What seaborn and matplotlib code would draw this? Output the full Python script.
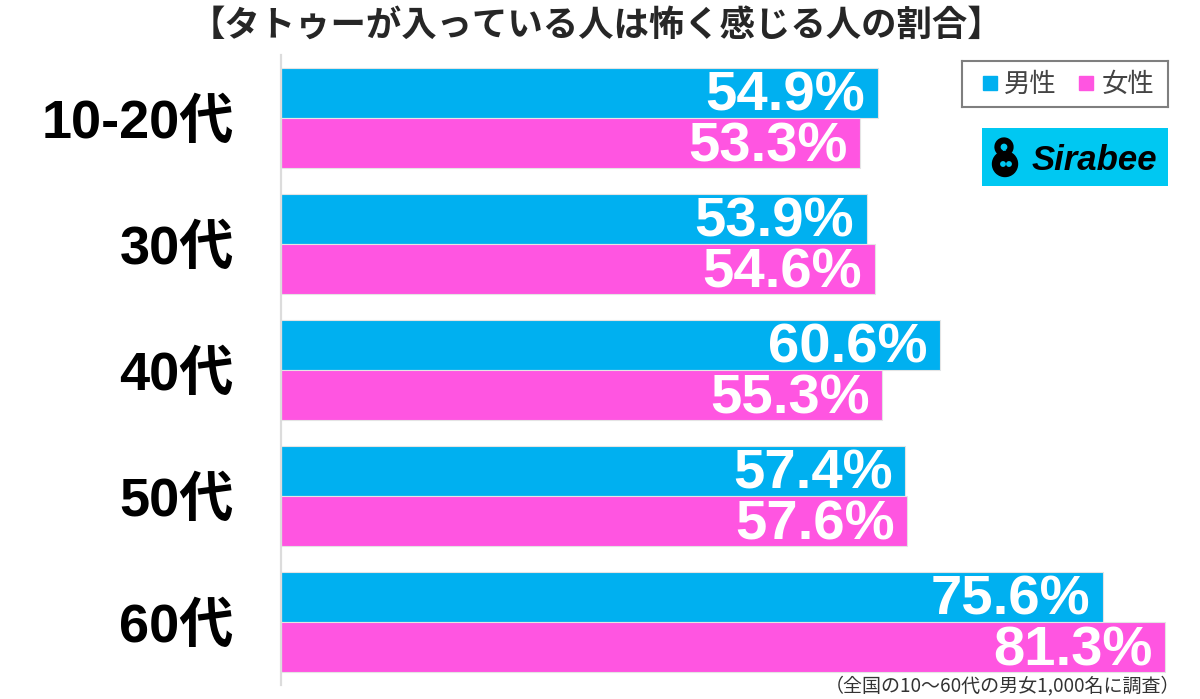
import matplotlib
matplotlib.use("Agg")
import matplotlib.pyplot as plt
import seaborn as sns
import pandas as pd
from matplotlib.patches import Rectangle, Circle, Arc

categories = ["10-20代", "30代", "40代", "50代", "60代"]
male = [54.9, 53.9, 60.6, 57.4, 75.6]
female = [53.3, 54.6, 55.3, 57.6, 81.3]
series = ["男性", "女性"]
colors = ["#00b0f0", "#ff55e1"]
title = "【タトゥーが入っている人は怖く感じる人の割合】"
note = "（全国の10〜60代の男女1,000名に調査）"

df = pd.DataFrame({
    "age": categories * 2,
    "sex": [series[0]] * len(categories) + [series[1]] * len(categories),
    "value": male + female,
})

sns.set_theme(style="white")
plt.rcParams["font.family"] = ["Liberation Sans", "Noto Sans CJK JP"]

fig = plt.figure(figsize=(12, 6.99), dpi=100)
ax = fig.add_axes([281 / 1200, 14 / 699, 919 / 1200, 630 / 699])

sns.barplot(data=df, y="age", x="value", hue="sex", hue_order=series,
            palette=colors, orient="h", order=categories, width=0.8,
            edgecolor="#e4e4e4", linewidth=0.8, saturation=1, legend=False, ax=ax)

ax.set_xlim(0, 919 / 10.87)
ax.set_ylim(4.5, -0.5)
ax.set_xlabel("")
ax.set_ylabel("")
ax.set_xticks([])
for s in ["top", "right", "bottom"]:
    ax.spines[s].set_visible(False)
ax.spines["left"].set_color("#dcdcdc")
ax.spines["left"].set_linewidth(1.6)
ax.tick_params(axis="y", length=0, pad=34)
for lab in ax.get_yticklabels():
    lab.set_fontsize(39)
    lab.set_fontweight("bold")
    lab.set_color("black")
    lab.set_family(["Liberation Sans", "Noto Sans CJK JP"])

for cont in ax.containers:
    for bar in cont:
        w = bar.get_width()
        y = bar.get_y() + bar.get_height() / 2
        ax.annotate(f"{w}%", xy=(w, y), xytext=(-9, -3), textcoords="offset points",
                    ha="right", va="center", color="white", fontsize=40.5,
                    fontweight="bold", family=["Liberation Sans", "Noto Sans CJK JP"])

fig.text(596 / 1200, 1 - 25 / 699, title, ha="center", va="center", fontsize=25.5,
         fontweight="bold", family=["Noto Sans CJK JP", "DejaVu Sans"])

# legend
leg_ax = fig.add_axes([962 / 1200, 1 - 107 / 699, 206 / 1200, 46 / 699])
leg_ax.set_xlim(0, 206)
leg_ax.set_ylim(0, 46)
leg_ax.set_xticks([])
leg_ax.set_yticks([])
for s in leg_ax.spines.values():
    s.set_color("#7f7f7f")
    s.set_linewidth(1.5)
leg_ax.set_facecolor("white")
leg_ax.add_patch(Rectangle((21, 17), 14, 14, color=colors[0]))
leg_ax.text(42, 23, series[0], fontsize=19, color="#444444", va="center", ha="left",
            family=["Noto Sans CJK JP"])
leg_ax.add_patch(Rectangle((117, 17), 14, 14, color=colors[1]))
leg_ax.text(140, 23, series[1], fontsize=19, color="#444444", va="center", ha="left",
            family=["Noto Sans CJK JP"])

# logo
logo_ax = fig.add_axes([982 / 1200, 1 - 186 / 699, 186 / 1200, 58 / 699])
logo_ax.set_xlim(0, 186)
logo_ax.set_ylim(0, 58)
logo_ax.set_xticks([])
logo_ax.set_yticks([])
for s in logo_ax.spines.values():
    s.set_visible(False)
logo_ax.set_facecolor("#00c8f2")
logo_ax.add_patch(Circle((23, 22), 12.5, color="black"))
logo_ax.add_patch(Arc((22, 39), 13, 13, theta1=-60, theta2=250, lw=4.5, color="black"))
logo_ax.add_patch(Circle((21, 22), 2.2, color="#00c8f2"))
logo_ax.add_patch(Circle((27, 22), 2.2, color="#00c8f2"))
logo_ax.text(50, 26, "Sirabee", fontsize=25, fontweight="bold", style="italic",
             color="black", va="center", ha="left", family=["Liberation Sans"])

fig.text(1180 / 1200, 1 - 686 / 699, note, ha="right", va="center", fontsize=13.7,
         color="#333333", family=["Noto Sans CJK JP", "DejaVu Sans"])

fig.savefig("out.png", dpi=100)
